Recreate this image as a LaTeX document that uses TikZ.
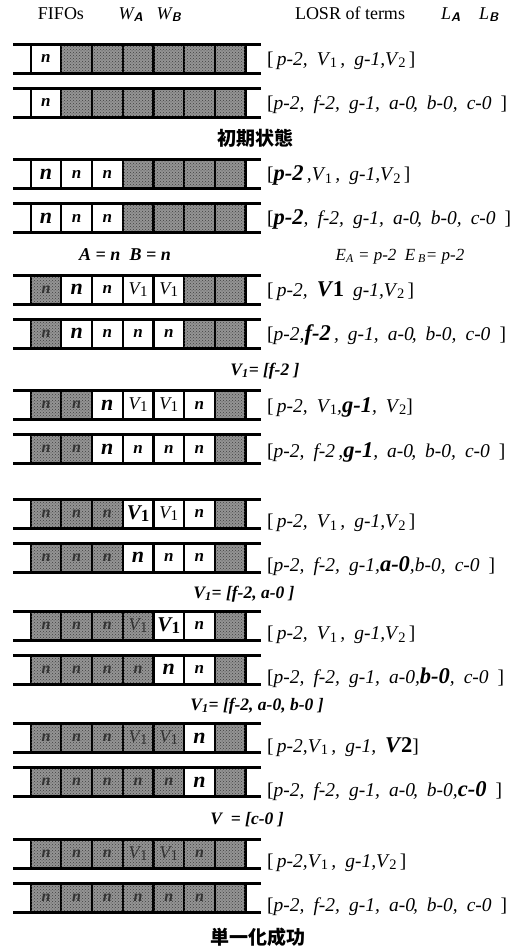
\documentclass[tikz,border=0pt]{standalone}
\usepackage{fontspec}
\setmainfont{Liberation Serif}
\newfontfamily\cjk{Noto Sans CJK JP}
\newfontfamily\lst{Liberation Serif}[WordSpace=1.85]
\usetikzlibrary{patterns}

% pieces of text
\newcommand\sbx[1]{\kern1.2pt\raisebox{-2.5pt}{\fontsize{14.5}{14.5}\selectfont\upshape #1}}
\newcommand\hl[1]{{\fontsize{22.5}{22.5}\selectfont\bfseries #1}}
% cell contents
\newcommand\nn{{\fontsize{17}{17}\selectfont\bfseries\itshape n}}
\newcommand\nN{{\fontsize{22}{22}\selectfont\bfseries\itshape n}}
\newcommand\ns{{\color{black!80}\fontsize{16}{16}\selectfont\bfseries\itshape n}}
\newcommand\vv{{\fontsize{18}{18}\selectfont\itshape V\kern0.5pt\upshape\raisebox{-2pt}{\fontsize{15}{15}\selectfont 1}}}
\newcommand\vV{{\fontsize{21}{21}\selectfont\bfseries\itshape V\upshape\raisebox{-1.5pt}{\fontsize{17}{17}\selectfont 1}}}
\newcommand\vs{{\color{black!80}\vv}}

\tikzset{
  wcell/.style={draw=black, line width=2.2pt, fill=white, minimum width=30.7pt,
    minimum height=29pt, inner sep=0pt, anchor=west},
  scell/.style={wcell, fill=black!42,
    postaction={pattern=crosshatch dots, pattern color=black!75}},
  rail/.style={line width=3pt},
  lsr/.style={anchor=base west, inner sep=0pt, font=\lst\fontsize{19.5}{19.5}\selectfont\itshape},
  note/.style={anchor=base, inner sep=0pt, font=\fontsize{17.5}{17.5}\selectfont\bfseries\itshape},
  head/.style={anchor=base, inner sep=0pt, font=\fontsize{18}{18}\selectfont},
  jcap/.style={anchor=base, inner sep=0pt, font=\cjk\bfseries\fontsize{19}{19}\selectfont},
}

% one FIFO: name, top edge, seven cells kind/content
\newcommand\fifo[3]{%
  \foreach \kind/\txt [count=\i] in {#3} {
    \node[\kind] (#1c\i) at ({29.5+(\i-1)*30.7},{#2+14.5}) {\txt};
  }
  \draw[rail] (13,#2) -- (261,#2);
  \draw[rail] (13,#2+29) -- (261,#2+29);
}

\begin{document}
\begin{tikzpicture}[x=1pt,y=-1pt]
\useasboundingbox[fill=white] (0,0) rectangle (515,951);

% column headings
\node[head] (hfifo) at (61,19) {FIFOs};
\node[head] (hwa) at (131,19) {\itshape W\textsubscript{\sffamily\bfseries A}};
\node[head] (hwb) at (169,19) {\itshape W\textsubscript{\sffamily\bfseries B}};
\node[head] (hlosr) at (350,19) {LOSR of terms};
\node[head] (hla) at (451,19) {\itshape L\textsubscript{\sffamily\bfseries A}};
\node[head] (hlb) at (489,19) {\itshape L\textsubscript{\sffamily\bfseries B}};

% initial state
\fifo{r1}{44}{wcell/\nn, scell/{}, scell/{}, scell/{}, scell/{}, scell/{}, scell/{}}
\node[lsr] (t1) at (267,65) {\upshape[\itshape\,p-2, V\sbx{1}\,, g-1,V\sbx{2}\,\upshape]};
\fifo{r2}{88}{wcell/\nn, scell/{}, scell/{}, scell/{}, scell/{}, scell/{}, scell/{}}
\node[lsr] (t2) at (267,109) {\upshape[\itshape p-2, f-2, g-1, a-0\kern-2pt, b-0, c-0 \upshape]};
\node[jcap] (c1) at (255,145) {初期状態};

\fifo{r3}{159.5}{wcell/\nN, wcell/\nn, wcell/\nn, scell/{}, scell/{}, scell/{}, scell/{}}
\node[lsr] (t3) at (267,180.5) {\upshape[\itshape\hl{p-2}\,,V\sbx{1}\,, g-1,V\sbx{2}\,\upshape]};
\fifo{r4}{203.5}{wcell/\nN, wcell/\nn, wcell/\nn, scell/{}, scell/{}, scell/{}, scell/{}}
\node[lsr] (t4) at (267,224.5) {\upshape[\itshape\hl{p-2}, f-2, g-1, a-0\kern-2pt, b-0, c-0 \upshape]};
\node[note, font=\fontsize{18}{18}\selectfont\bfseries\itshape] (c2a) at (125,260) {A = n\ \ B = n};
\node[note, font=\fontsize{17}{17}\selectfont\itshape] (c2b) at (400,260) {E\textsubscript{A} = p-2\ \ E\,\textsubscript{B}= p-2};

\fifo{r5}{275}{scell/\ns, wcell/\nN, wcell/\nn, wcell/\vv, wcell/\vv, scell/{}, scell/{}}
\node[lsr] (t5) at (267,296) {\upshape[\itshape\,p-2, \hl{V\kern1pt\upshape 1}\ g-1,V\sbx{2}\,\upshape]};
\fifo{r6}{319}{scell/\ns, wcell/\nN, wcell/\nn, wcell/\nn, wcell/\nn, scell/{}, scell/{}}
\node[lsr] (t6) at (267,340) {\upshape[\itshape p-2,\hl{f-2}\,, g-1, a-0\kern-2pt, b-0, c-0 \upshape]};
\node[note] (c3) at (265,375) {V\textsubscript{1}= [f-2 ]};

\fifo{r7}{390.5}{scell/\ns, scell/\ns, wcell/\nN, wcell/\vv, wcell/\vv, wcell/\nn, scell/{}}
\node[lsr] (t7) at (267,412) {\upshape[\itshape\,p-2, V\sbx{1},\hl{g-1}, V\sbx{2}\upshape]};
\fifo{r8}{434.5}{scell/\ns, scell/\ns, wcell/\nN, wcell/\nn, wcell/\nn, wcell/\nn, scell/{}}
\node[lsr] (t8) at (267,457) {\upshape[\itshape p-2, f-2\,,\hl{g-1}, a-0\kern-2pt, b-0, c-0 \upshape]};

\fifo{r9}{499}{scell/\ns, scell/\ns, scell/\ns, wcell/\vV, wcell/\vv, wcell/\nn, scell/{}}
\node[lsr] (t9) at (267,527.5) {\upshape[\itshape\,p-2, V\sbx{1}\,, g-1,V\sbx{2}\,\upshape]};
\fifo{r10}{543}{scell/\ns, scell/\ns, scell/\ns, wcell/\nN, wcell/\nn, wcell/\nn, scell/{}}
\node[lsr] (t10) at (267,571.5) {\upshape[\itshape p-2, f-2, g-1,\hl{a-0},b-0, c-0 \upshape]};
\node[note] (c4) at (244,598) {V\textsubscript{1}= [f-2, a-0 ]};

\fifo{r11}{611}{scell/\ns, scell/\ns, scell/\ns, scell/\vs, wcell/\vV, wcell/\nn, scell/{}}
\node[lsr] (t11) at (267,639.5) {\upshape[\itshape\,p-2, V\sbx{1}\,, g-1,V\sbx{2}\,\upshape]};
\fifo{r12}{655}{scell/\ns, scell/\ns, scell/\ns, scell/\ns, wcell/\nN, wcell/\nn, scell/{}}
\node[lsr] (t12) at (267,683.5) {\upshape[\itshape p-2, f-2, g-1, a-0,\hl{b-0}, c-0 \upshape]};
\node[note] (c5) at (257,710) {V\textsubscript{1}= [f-2, a-0, b-0 ]};

\fifo{r13}{723.5}{scell/\ns, scell/\ns, scell/\ns, scell/\vs, scell/\vs, wcell/\nN, scell/{}}
\node[lsr] (t13) at (267,752) {\upshape[\itshape\,p-2,V\sbx{1}\,, g-1, \hl{V\kern1pt\upshape 2}\upshape]};
\fifo{r14}{767.5}{scell/\ns, scell/\ns, scell/\ns, scell/\ns, scell/\ns, wcell/\nN, scell/{}}
\node[lsr] (t14) at (267,796) {\upshape[\itshape p-2, f-2, g-1, a-0\kern-2pt, b-0,\hl{c-0} \upshape]};
\node[note] (c6) at (247,824) {V\ \ = [c-0 ]};

\fifo{r15}{839}{scell/\ns, scell/\ns, scell/\ns, scell/\vs, scell/\vs, scell/\ns, scell/{}}
\node[lsr] (t15) at (267,867) {\upshape[\itshape\,p-2,V\sbx{1}\,, g-1,V\sbx{2}\,\upshape]};
\fifo{r16}{883}{scell/\ns, scell/\ns, scell/\ns, scell/\ns, scell/\ns, scell/\ns, scell/{}}
\node[lsr] (t16) at (267,911) {\upshape[\itshape p-2, f-2, g-1, a-0\kern-2pt, b-0, c-0 \upshape]};
\node[jcap] (c7) at (258,944) {単一化成功};
\end{tikzpicture}
\end{document}
